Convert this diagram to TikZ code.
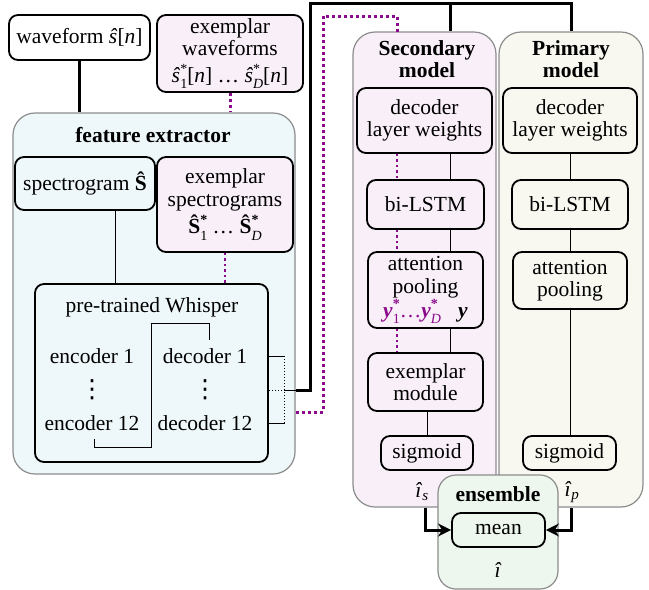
\documentclass[tikz,border=0pt]{standalone}
\usepackage{fontspec}
\setmainfont{Liberation Serif}
\newfontfamily\dejavu{DejaVu Sans}
\usetikzlibrary{arrows.meta,calc}
\definecolor{fecol}{HTML}{EEF7F9}
\definecolor{seccol}{HTML}{F9EFF8}
\definecolor{pricol}{HTML}{F8F8F0}
\definecolor{enscol}{HTML}{EEF7EE}
\definecolor{excol}{HTML}{8B0A8B}
\definecolor{edgegray}{HTML}{8C8C8C}
\newcommand{\xsupsub}[2]{\rlap{\raisebox{0.42em}{\fontsize{14}{14}\selectfont #1}}\raisebox{-0.3em}{\fontsize{14}{14}\selectfont #2}}
\newcommand{\myvdots}{{\dejavu\fontsize{25}{25}\selectfont ⋮}}
\newcommand{\hs}{\textit{\^{s}}}
\newcommand{\hS}{\textbf{\^{S}}}
\newcommand{\by}{\textbf{\textit{y}}}
\begin{document}
\begin{tikzpicture}[x=1pt,y=-1pt,
  every node/.style={font=\fontsize{21.5}{22.5}\selectfont},
  bx/.style={draw, line width=1.8pt, rounded corners=9pt, align=center, inner sep=0pt},
  outer/.style={draw=edgegray, line width=1.2pt, rounded corners=22pt, inner sep=0pt},
  ttl/.style={font=\fontsize{21.5}{22.5}\selectfont\bfseries, align=center, inner sep=0pt},
  lbl/.style={inner sep=0pt, minimum height=32pt},
  thickc/.style={line width=3pt},
  thinc/.style={line width=1pt},
  pdot/.style={draw=excol, line width=3pt, dash pattern=on 3pt off 3pt},
  pdotin/.style={draw=excol, line width=2.2pt, dash pattern=on 2.5pt off 3pt},
  arr/.style={line width=3pt, -{Stealth[length=13pt,width=13pt,inset=4pt]}},
]
\useasboundingbox (0,0) rectangle (649,590);
% outer containers
\node[outer, fill=fecol, minimum width=282pt, minimum height=361pt] (fe) at (154,293.5) {};
\node[outer, fill=seccol, minimum width=143pt, minimum height=475pt] (sec) at (424.5,269.5) {};
\node[outer, fill=pricol, minimum width=144pt, minimum height=475pt] (pri) at (571,269.5) {};
\node[outer, fill=enscol, minimum width=120pt, minimum height=114pt, rounded corners=18pt] (ens) at (498,532) {};
% titles
\node[ttl] (fet) at (153,135) {feature extractor};
\node[ttl] (sect) at (427,59) {Secondary\\model};
\node[ttl] (prit) at (571,59) {Primary\\model};
\node[ttl] (enst) at (498,494) {ensemble};
% left column
\node[bx, fill=white, minimum width=141pt, minimum height=45pt] (wave) at (79.5,37.5) {waveform \hs[\textit{n}]};
\node[bx, fill=seccol, minimum width=146pt, minimum height=77pt] (exw) at (230,53.5) {exemplar\\waveforms\\[4pt]\hs\xsupsub{*}{1}[\textit{n}] \ldots\ \hs\xsupsub{*}{\textit{D}}[\textit{n}]};
\node[bx, fill=fecol, minimum width=140pt, minimum height=53pt] (spec) at (85,183.5) {spectrogram \hS};
\node[bx, fill=seccol, minimum width=136pt, minimum height=95pt] (exspec) at (225,204.5) {exemplar\\spectrograms\\[3pt]\hS\xsupsub{\textbf{*}}{1} \ldots\ \hS\xsupsub{\textbf{*}}{\textit{D}}};
\node[bx, fill=fecol, minimum width=233pt, minimum height=178pt] (whisper) at (151.5,373) {};
\node[lbl] (wt) at (152,307) {pre-trained Whisper};
\node[lbl] (enc1) at (92,356) {encoder 1};
\node[inner sep=0pt] (encd) at (92,390) {\myvdots};
\node[lbl] (enc12) at (92,423) {encoder 12};
\node[lbl] (dec1) at (205,356) {decoder 1};
\node[inner sep=0pt] (decd) at (205,390) {\myvdots};
\node[lbl] (dec12) at (205,423) {decoder 12};
% secondary model
\node[bx, fill=seccol, minimum width=135pt, minimum height=65pt] (sdlw) at (424.5,120.5) {decoder\\layer weights};
\node[bx, fill=seccol, minimum width=117pt, minimum height=49pt] (slstm) at (425.5,204.5) {bi-LSTM};
\node[bx, fill=seccol, minimum width=115pt, minimum height=76pt] (satt) at (425.5,290) {attention\\pooling\\{\color{excol}\by\xsupsub{\textbf{*}}{1}\ldots\by\xsupsub{\textbf{*}}{\textit{D}}}\hspace{0.8em}\by};
\node[bx, fill=seccol, minimum width=115pt, minimum height=58pt] (sexm) at (425.5,382) {exemplar\\module};
\node[bx, fill=seccol, minimum width=92pt, minimum height=34pt] (ssig) at (427,453) {sigmoid};
% primary model
\node[bx, fill=pricol, minimum width=134pt, minimum height=65pt] (pdlw) at (570,120.5) {decoder\\layer weights};
\node[bx, fill=pricol, minimum width=116pt, minimum height=49pt] (plstm) at (570,204.5) {bi-LSTM};
\node[bx, fill=pricol, minimum width=114pt, minimum height=57pt] (patt) at (570,280.5) {attention\\pooling};
\node[bx, fill=pricol, minimum width=93pt, minimum height=34pt] (psig) at (569.5,453) {sigmoid};
% ensemble
\node[bx, fill=enscol, minimum width=93pt, minimum height=34pt] (mean) at (498.5,530) {mean};
\node[inner sep=0pt] (is) at (422,492) {\textit{\^{\i}}\textsubscript{\textit{s}}};
\node[inner sep=0pt] (ip) at (572,492) {\textit{\^{\i}}\textsubscript{\textit{p}}};
\node[inner sep=0pt] (ih) at (498,570) {\textit{\^{\i}}};
% helper coordinates
\coordinate (mid) at (151,323);
\coordinate (topl) at (310,3);
\coordinate (sxs) at (450,3);
\coordinate (pa) at (323,16);
\coordinate (pb) at (323,412);
\coordinate (pxs) at (397,32);
% connectors: left
\draw[thickc] (wave.south) -- (wave.south |- fe.north);
\draw[pdot] (exw.south) -- (exw.south |- fe.north);
\draw[thinc] ([xshift=30pt]spec.south) -- ([xshift=30pt]spec.south |- whisper.north);
\draw[pdotin] (exspec.south) -- (exspec.south |- whisper.north);
\draw[thinc] ([xshift=2pt]enc12.south) -- ++(0,8) -| (mid) -| ([xshift=4pt]dec1.north);
\draw[thinc] (whisper.east |- dec1) -- ++(16,0) coordinate (b1);
\draw[thinc] (whisper.east |- dec12) -- ++(16,0) coordinate (b2);
\draw[thinc, dotted] (b1) -- (b2);
\draw[thinc, dotted] (whisper.east |- encd) -- (b1 |- encd) coordinate (b3);
\draw[thinc] (b3) -- (fe.east |- b3);
\draw[thickc] (fe.east |- b3) -| (topl) -| (pri.north);
\draw[thickc] (sxs) -- (sxs |- sec.north);
\draw[pdot] (fe.east |- pb) -- (pb) -- (pa) -| (pxs);
% secondary internal
\draw[pdotin] (sdlw.south -| pxs) -- (slstm.north -| pxs);
\draw[pdotin] (slstm.south -| pxs) -- (satt.north -| pxs);
\draw[pdotin] (satt.south -| pxs) -- (sexm.north -| pxs);
\draw[thinc] (sdlw.south -| sxs) -- (slstm.north -| sxs);
\draw[thinc] (slstm.south -| sxs) -- (satt.north -| sxs);
\draw[thinc] (satt.south -| sxs) -- (sexm.north -| sxs);
\draw[thinc] (ssig.north |- sexm.south) -- (ssig.north);
% primary internal
\draw[thinc] (pdlw.south) -- (plstm.north);
\draw[thinc] (plstm.south) -- (patt.north);
\draw[thinc] (patt.south) -- (patt.south |- psig.north);
% to ensemble
\draw[arr] ([xshift=0.5pt]sec.south) |- (mean.west);
\draw[arr] (pri.south) |- (mean.east);
\end{tikzpicture}
\end{document}
